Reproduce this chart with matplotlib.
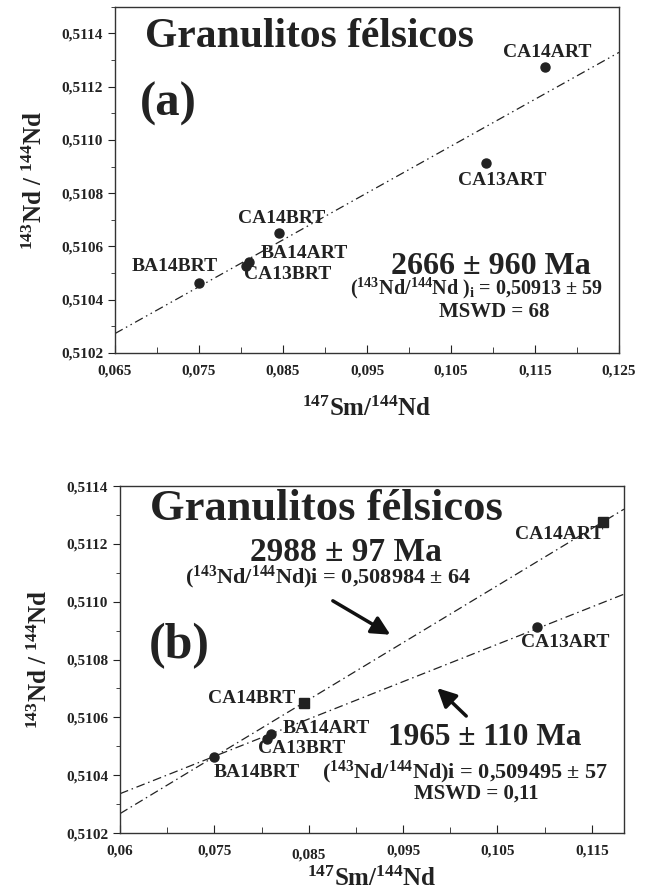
import matplotlib
matplotlib.use('Agg')
import matplotlib.pyplot as plt
from matplotlib.ticker import FixedLocator, FixedFormatter, MultipleLocator, FuncFormatter

# Fontes: serif negrito tipo Times
plt.rcParams['font.family'] = ['Liberation Serif', 'DejaVu Serif']
plt.rcParams['font.weight'] = 'bold'
plt.rcParams['axes.labelweight'] = 'bold'
plt.rcParams['mathtext.fontset'] = 'custom'
plt.rcParams['mathtext.rm'] = 'Liberation Serif:bold'
plt.rcParams['mathtext.it'] = 'Liberation Serif:bold'
plt.rcParams['mathtext.bf'] = 'Liberation Serif:bold'
plt.rcParams['mathtext.default'] = 'rm'

COR = '#222222'

# Dados das amostras (147Sm/144Nd, 143Nd/144Nd)
amostras = ['BA14BRT', 'CA13BRT', 'BA14ART', 'CA14BRT', 'CA13ART', 'CA14ART']
sm_nd = [0.0750, 0.0806, 0.0810, 0.0845, 0.1092, 0.1162]
nd_nd = [0.510464, 0.510526, 0.510541, 0.510650, 0.510913, 0.511276]

# marcadores do painel (b): quadrado para CA14BRT e CA14ART
marcadores_b = ['o', 'o', 'o', 's', 'o', 's']

# Isócronas (extremos)
iso_a_x = [0.065, 0.125]
iso_a_y = [0.510273, 0.511329]
iso_b1_x = [0.065, 0.1184]
iso_b1_y = [0.510267, 0.511320]
iso_b2_x = [0.065, 0.1184]
iso_b2_y = [0.510336, 0.511026]

# Rótulos das amostras (posições)
rot_a = {'BA14BRT': (0.0721, 0.510526), 'CA13BRT': (0.0855, 0.510495),
         'BA14ART': (0.0875, 0.510573), 'CA14BRT': (0.0848, 0.510705),
         'CA13ART': (0.1111, 0.510849), 'CA14ART': (0.1165, 0.511330)}
rot_b = {'BA14BRT': (0.0795, 0.510410), 'CA13BRT': (0.0842, 0.510494),
         'BA14ART': (0.0869, 0.510560), 'CA14BRT': (0.0790, 0.510664),
         'CA13ART': (0.1122, 0.510860), 'CA14ART': (0.1115, 0.511233)}

xticks_a = [0.065, 0.075, 0.085, 0.095, 0.105, 0.115, 0.125]
xlabels_a = ['0,065', '0,075', '0,085', '0,095', '0,105', '0,115', '0,125']
xticks_b = [0.065, 0.075, 0.085, 0.095, 0.105, 0.115]
xlabels_b = ['0,06', '0,075', '0,085', '0,095', '0,105', '0,115']
yticks = [0.5102, 0.5104, 0.5106, 0.5108, 0.5110, 0.5112, 0.5114]

fig = plt.figure(figsize=(6.52, 8.92), dpi=100)
ax1 = fig.add_axes([0.1764, 0.6043, 0.773, 0.388])
ax2 = fig.add_axes([0.184, 0.0661, 0.773, 0.389])

yfmt = FuncFormatter(lambda v, p: f'{v:.4f}'.replace('.', ','))


def estilo(ax, xt, xl, pad_titulo):
    ax.xaxis.set_major_locator(FixedLocator(xt))
    ax.xaxis.set_major_formatter(FixedFormatter(xl))
    ax.xaxis.set_minor_locator(MultipleLocator(0.005))
    ax.yaxis.set_major_locator(FixedLocator(yticks))
    ax.yaxis.set_major_formatter(yfmt)
    ax.yaxis.set_minor_locator(MultipleLocator(0.0001))
    ax.tick_params(axis='x', which='both', direction='in', top=False,
                   labelsize=11, colors=COR, pad=8)
    ax.tick_params(axis='x', which='major', length=6)
    ax.tick_params(axis='x', which='minor', length=4)
    ax.tick_params(axis='y', which='both', direction='out', right=False,
                   labelsize=11, colors=COR)
    ax.tick_params(axis='y', which='major', length=5)
    ax.tick_params(axis='y', which='minor', length=3)
    for s in ax.spines.values():
        s.set_color('#333333')
        s.set_linewidth(1.0)
    ax.set_xlabel(r'$^{147}$Sm/$^{144}$Nd', fontsize=18, color=COR, labelpad=pad_titulo)
    ax.set_ylabel(r'$^{143}$Nd / $^{144}$Nd', fontsize=18, color=COR, labelpad=10)


# ---------- Painel (a) ----------
ax1.plot(iso_a_x, iso_a_y, color=COR, lw=0.9, dashes=(7, 3, 1.2, 3, 1.2, 3))
ax1.plot(sm_nd, nd_nd, 'o', color=COR, markersize=6.5)
for nome in amostras:
    ax1.text(*rot_a[nome], nome, fontsize=14, ha='center', va='center', color=COR)
ax1.text(0.0881, 0.511386, 'Granulitos félsicos', fontsize=30, ha='center', va='center', color=COR)
ax1.text(0.0714, 0.511135, '(a)', fontsize=35, ha='center', va='center', color=COR)
ax1.text(0.1098, 0.510526, '2666 ± 960 Ma', fontsize=23, ha='center', va='center', color=COR)
ax1.text(0.1080, 0.510441, r'($^{143}$Nd/$^{144}$Nd )$_{\rm i}$ = 0,50913 ± 59', fontsize=14.5,
         ha='center', va='center', color=COR)
ax1.text(0.1102, 0.510353, 'MSWD = 68', fontsize=15, ha='center', va='center', color=COR)
ax1.set_xlim(0.065, 0.125)
ax1.set_ylim(0.5102, 0.51150)
estilo(ax1, xticks_a, xlabels_a, 14)

# ---------- Painel (b) ----------
ax2.plot(iso_b1_x, iso_b1_y, color=COR, lw=0.9, dashes=(7, 3, 1.2, 3))
ax2.plot(iso_b2_x, iso_b2_y, color=COR, lw=0.9, dashes=(7, 3, 1.2, 3))
for xi, yi, m in zip(sm_nd, nd_nd, marcadores_b):
    ax2.plot(xi, yi, m, color=COR, markersize=6.5)
for nome in amostras:
    ax2.text(*rot_b[nome], nome, fontsize=14, ha='center', va='center', color=COR)
ax2.text(0.0869, 0.511319, 'Granulitos félsicos', fontsize=32, ha='center', va='center', color=COR)
ax2.text(0.0713, 0.510846, '(b)', fontsize=36, ha='center', va='center', color=COR)
ax2.text(0.0889, 0.511169, '2988 ± 97 Ma', fontsize=24, ha='center', va='center', color=COR)
ax2.text(0.0871, 0.511083, r'($^{143}$Nd/$^{144}$Nd)i = 0,508984 ± 64', fontsize=16,
         ha='center', va='center', color=COR)
ax2.text(0.1036, 0.510529, '1965 ± 110 Ma', fontsize=22.5, ha='center', va='center', color=COR)
ax2.text(0.1015, 0.510410, r'($^{143}$Nd/$^{144}$Nd)i = 0,509495 ± 57', fontsize=16,
         ha='center', va='center', color=COR)
ax2.text(0.1028, 0.510336, 'MSWD = 0,11', fontsize=15, ha='center', va='center', color=COR)
ax2.annotate('', xy=(0.0939, 0.510881), xytext=(0.0873, 0.511008),
             arrowprops=dict(arrowstyle='-|>', color='#111111', lw=2.5, mutation_scale=28))
ax2.annotate('', xy=(0.0984, 0.510708), xytext=(0.1019, 0.510598),
             arrowprops=dict(arrowstyle='-|>', color='#111111', lw=2.5, mutation_scale=28))
ax2.set_xlim(0.065, 0.1184)
ax2.set_ylim(0.5102, 0.5114)
estilo(ax2, xticks_b, xlabels_b, 4)
# o rótulo 0,085 aparece um pouco mais baixo no original
ax2.get_xticklabels()[2].set_y(-0.012)

fig.savefig('out.png', dpi=100)
